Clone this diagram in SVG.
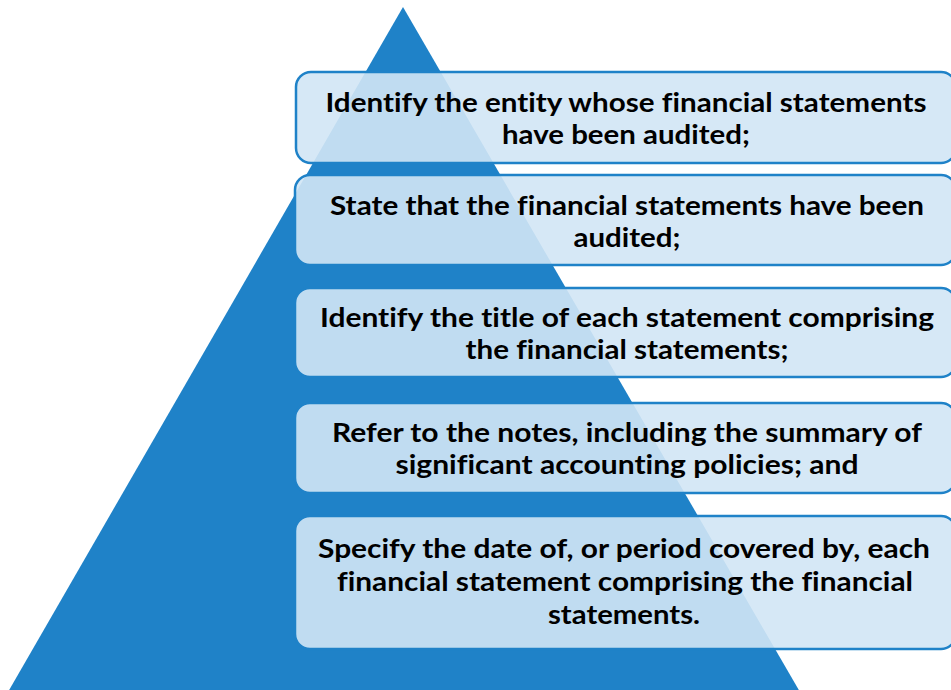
<svg xmlns="http://www.w3.org/2000/svg" width="951" height="690" viewBox="0 0 951 690">
<style>
.box{fill:#d1e5f5;fill-opacity:0.9;stroke:#1f82c8;stroke-width:2.5}
.t{font-family:"Lato","Noto Sans","DejaVu Sans",sans-serif;font-weight:bold;font-size:26px;fill:#000;text-anchor:middle;font-variant-ligatures:none;font-feature-settings:"liga" 0,"clig" 0,"dlig" 0}
</style>
<rect width="951" height="690" fill="#ffffff"/>
<g id="pyramid"><polygon points="403,7 8,692 800,692" fill="#1f82c8"/></g>
<g id="connectors"></g>
<g id="node1"><rect class="box" x="296" y="72" width="660" height="91" rx="15"/>
<text class="t" x="626" y="112" textLength="601" lengthAdjust="spacingAndGlyphs">Identify the entity whose financial statements</text>
<text class="t" x="626" y="144" textLength="248" lengthAdjust="spacingAndGlyphs">have been audited;</text></g>
<g id="node2"><rect class="box" x="295" y="175" width="661" height="90" rx="15"/>
<text class="t" x="627" y="215" textLength="594" lengthAdjust="spacingAndGlyphs">State that the financial statements have been</text>
<text class="t" x="627" y="247" textLength="107" lengthAdjust="spacingAndGlyphs">audited;</text></g>
<g id="node3"><rect class="box" x="295" y="288" width="661" height="89" rx="15"/>
<text class="t" x="627" y="327" textLength="614" lengthAdjust="spacingAndGlyphs">Identify the title of each statement comprising</text>
<text class="t" x="627" y="359" textLength="323" lengthAdjust="spacingAndGlyphs">the financial statements;</text></g>
<g id="node4"><rect class="box" x="295" y="403" width="661" height="90" rx="15"/>
<text class="t" x="627" y="442" textLength="590" lengthAdjust="spacingAndGlyphs">Refer to the notes, including the summary of</text>
<text class="t" x="627" y="474" textLength="463" lengthAdjust="spacingAndGlyphs">significant accounting policies; and</text></g>
<g id="node5"><rect class="box" x="295" y="516" width="661" height="133" rx="15"/>
<text class="t" x="624" y="558" textLength="612" lengthAdjust="spacingAndGlyphs">Specify the date of, or period covered by, each</text>
<text class="t" x="625" y="591" textLength="576" lengthAdjust="spacingAndGlyphs">financial statement comprising the financial</text>
<text class="t" x="624" y="624" textLength="152" lengthAdjust="spacingAndGlyphs">statements.</text></g>
</svg>
